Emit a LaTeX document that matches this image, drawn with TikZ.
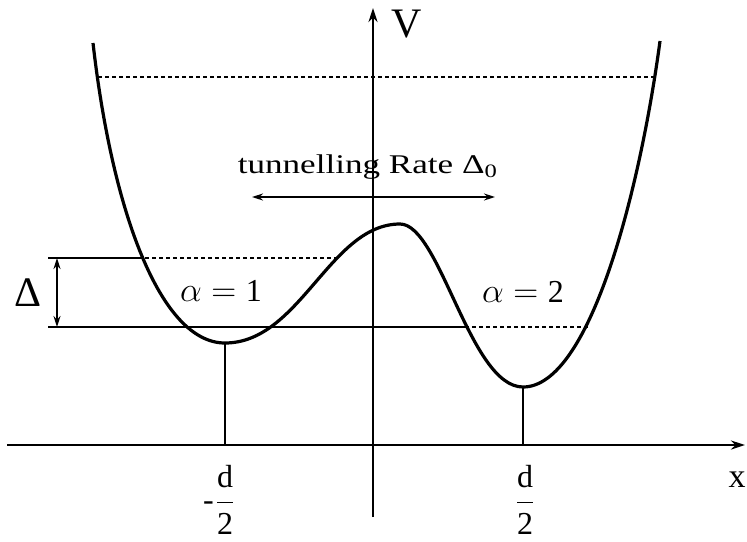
\documentclass[tikz,border=0pt]{standalone}
\usepackage{fontspec}
\setmainfont{Liberation Serif}
\usetikzlibrary{arrows.meta}

\begin{document}
\begin{tikzpicture}[x=0.5pt,y=-0.5pt,
  axis/.style={line width=1.3pt,-{Stealth[length=7pt,width=4.5pt]}},
  dbl/.style={line width=0.8pt,{Stealth[length=5.5pt,width=3.5pt]}-{Stealth[length=5.5pt,width=3.5pt]}},
  level/.style={line width=0.7pt},
  levdash/.style={line width=0.6pt,dash pattern=on 2pt off 1.5pt},
  pot/.style={line width=1.6pt,line join=round},
  lbl/.style={inner sep=0pt}]

\useasboundingbox (0,0) rectangle (747,541);

% axes
\draw[axis] (7,445) -- (745,445);
\draw[axis] (373,517) -- (373,8);
\node[lbl,font=\fontsize{21}{24}\selectfont] (vlab) at (407,24) {V};
\node[lbl,font=\fontsize{17}{20}\selectfont] (xlab) at (737,480) {x};

% levels
\draw[levdash] (98,77) -- (655,77);
\draw[level] (48,258) -- (138,258);
\draw[levdash] (138,258) -- (338,258);
\draw[level] (48,327) -- (465,327);
\draw[levdash] (465,327) -- (590,327);

% potential
\coordinate (lmin) at (225,343);
\coordinate (top) at (400,224);
\coordinate (rmin) at (523,387);
\draw[pot] (93,43) .. controls (112,210) and (160,343) .. (lmin)
  .. controls (300,343) and (330,224) .. (top)
  .. controls (440,224) and (470,387) .. (rmin)
  .. controls (590,387) and (640,190) .. (660,41);

% minima
\draw[level] (lmin) -- (225,445);
\draw[level] (rmin) -- (523,445);

% splitting
\coordinate (dtop) at (57,258);
\coordinate (dbot) at (57,327);
\draw[dbl] (dtop) -- (dbot);
\node[lbl,font=\fontsize{21}{24}\selectfont] (dlab) at (28,293) {Δ};

% tunnelling
\coordinate (tl) at (252,197);
\coordinate (tr) at (495,197);
\draw[dbl] (tl) -- (tr);
\node[lbl,font=\fontsize{13.5}{16}\selectfont] (tlab) at (368,167)
  {\scalebox{1.3}[1]{tunnelling Rate Δ\textsubscript{0}}};

\node[lbl,font=\fontsize{16}{19}\selectfont] (aone) at (221,291) {$\alpha=\hbox{1}$};
\node[lbl,font=\fontsize{16}{19}\selectfont] (atwo) at (523,292) {$\alpha=\hbox{2}$};

% well positions
\node[lbl,font=\fontsize{16}{19}\selectfont] (dneg) at (225,500)
  {$\displaystyle\frac{\hbox{d}}{\hbox{2}}$};
\node[lbl,anchor=east,font=\fontsize{16}{19}\selectfont] (dmin) at ([yshift=-3pt]dneg.west) {-};
\node[lbl,font=\fontsize{16}{19}\selectfont] (dpos) at (525,500)
  {$\displaystyle\frac{\hbox{d}}{\hbox{2}}$};

\end{tikzpicture}
\end{document}
